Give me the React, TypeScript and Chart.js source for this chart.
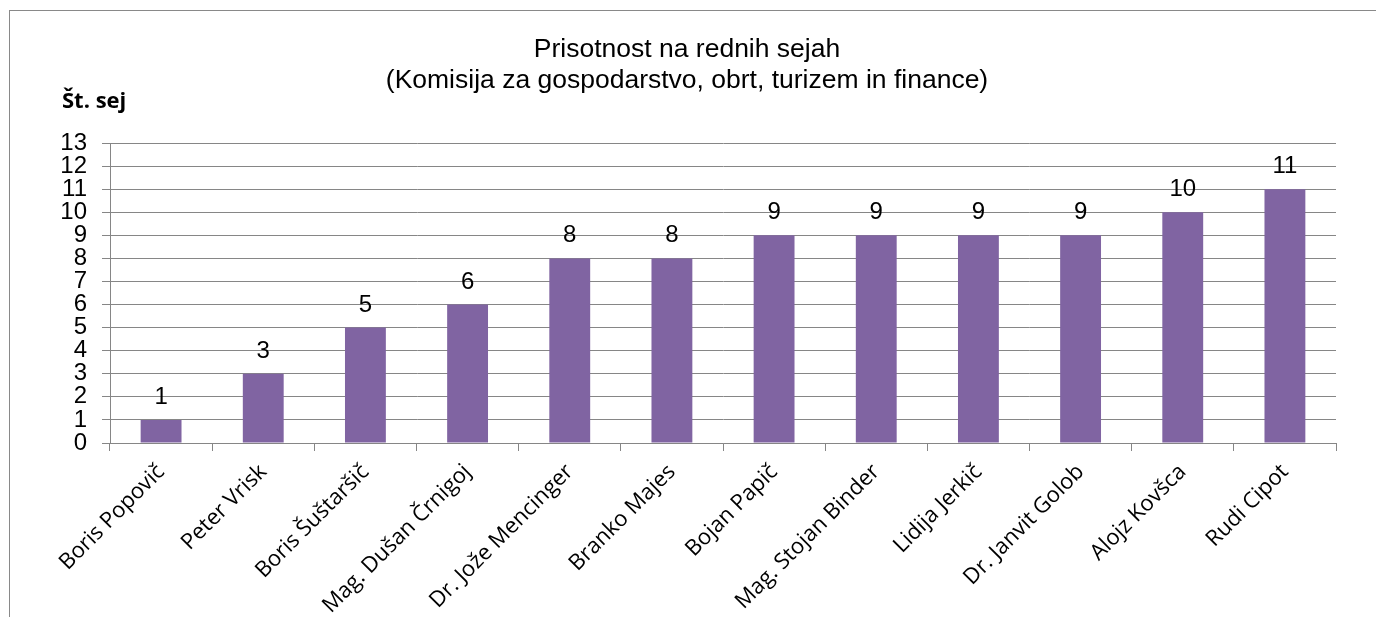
import React, { useEffect, useRef } from "react";
import { Chart, registerables } from "chart.js";

Chart.register(...registerables);

const titleLines = [
  "Prisotnost na rednih sejah",
  "(Komisija za gospodarstvo, obrt, turizem in finance)",
];
const yAxisTitle = "Št. sej";
const categories = [
  "Boris Popovič",
  "Peter Vrisk",
  "Boris Šuštaršič",
  "Mag. Dušan Črnigoj",
  "Dr. Jože Mencinger",
  "Branko Majes",
  "Bojan Papič",
  "Mag. Stojan Binder",
  "Lidija Jerkič",
  "Dr. Janvit Golob",
  "Alojz Kovšca",
  "Rudi Cipot",
];
const attendance = [1, 3, 5, 6, 8, 8, 9, 9, 9, 9, 10, 11];
const yMin = 0;
const yMax = 13;

const W = 1376;
const H = 617;
const GRID = "#868686";
const BAR = "#8064A2";

export default function App() {
  const ref = useRef<HTMLCanvasElement | null>(null);

  useEffect(() => {
    const canvas = ref.current;
    if (!canvas) return;

    const textPlugin = {
      id: "texts",
      afterDatasetsDraw(chart: any) {
        const ctx = chart.ctx;
        const meta = chart.getDatasetMeta(0);
        ctx.save();
        ctx.fillStyle = "#000";
        ctx.font = "24px 'Liberation Sans', Arial, sans-serif";
        ctx.textAlign = "center";
        ctx.textBaseline = "alphabetic";
        meta.data.forEach((bar: any, i: number) => {
          ctx.fillText(String(attendance[i]), bar.x, bar.y - 16);
        });
        ctx.restore();
      },
      afterDraw(chart: any) {
        const ctx = chart.ctx;
        ctx.save();
        ctx.fillStyle = "#000";
        ctx.textAlign = "center";
        ctx.textBaseline = "alphabetic";
        ctx.font = "26.5px 'Liberation Sans', Arial, sans-serif";
        ctx.fillText(titleLines[0], 687, 57);
        ctx.fillText(titleLines[1], 687, 88);
        ctx.textAlign = "left";
        ctx.font = "bold 22px 'Open Sans', 'Noto Sans', sans-serif";
        ctx.fillText(yAxisTitle, 62, 108);
        ctx.restore();
      },
    };

    const chart = new Chart(canvas, {
      type: "bar",
      data: {
        labels: categories,
        datasets: [
          {
            data: attendance,
            backgroundColor: BAR,
            borderWidth: 0,
            categoryPercentage: 1,
            barPercentage: 0.4,
          },
        ],
      },
      options: {
        responsive: false,
        animation: false,
        devicePixelRatio: 1,
        layout: { padding: { top: 143, right: 40, bottom: 0, left: 0 } },
        plugins: {
          legend: { display: false },
          title: { display: false },
          tooltip: { enabled: false },
        },
        scales: {
          x: {
            grid: {
              display: true,
              drawOnChartArea: false,
              drawTicks: true,
              offset: true,
              tickLength: 8,
              color: GRID,
              lineWidth: 1,
            },
            border: { display: true, color: GRID, width: 1 },
            ticks: {
              autoSkip: false,
              minRotation: 45,
              maxRotation: 45,
              padding: 8,
              color: "#000",
              font: { family: "'Open Sans', 'Noto Sans', sans-serif", size: 22 },
            },
            afterFit: (scale: any) => {
              scale.height = 174;
            },
          },
          y: {
            min: yMin,
            max: yMax,
            grid: {
              color: GRID,
              lineWidth: 1,
              tickLength: 8,
              drawTicks: true,
            },
            border: { display: true, color: GRID, width: 1 },
            ticks: {
              stepSize: 1,
              autoSkip: false,
              padding: 15,
              color: "#000",
              font: { family: "'Liberation Sans', Arial, sans-serif", size: 24 },
            },
            afterFit: (scale: any) => {
              scale.width = 110;
            },
          },
        },
      },
      plugins: [textPlugin],
    });

    return () => {
      chart.destroy();
    };
  }, []);

  return (
    <div style={{ position: "fixed", left: 0, top: 0, width: W, height: H, background: "#fff", overflow: "hidden" }}>
      <div
        style={{
          position: "absolute",
          left: 9,
          top: 10,
          width: W,
          height: H,
          borderLeft: "1px solid #898989",
          borderTop: "1px solid #898989",
        }}
      />
      <canvas ref={ref} width={W} height={H} style={{ position: "absolute", left: 0, top: 0, width: W, height: H }} />
    </div>
  );
}
